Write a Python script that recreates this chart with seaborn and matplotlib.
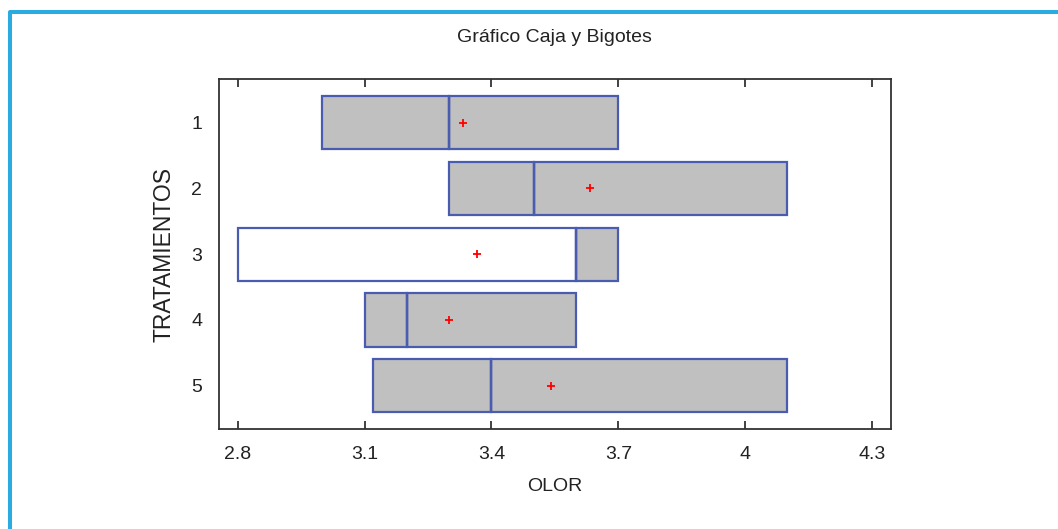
import matplotlib
matplotlib.use("Agg")
import matplotlib.pyplot as plt
import pandas as pd
import seaborn as sns
from matplotlib.patches import Rectangle

# Box-and-whisker summary per treatment (OLOR)
tratamientos = ["1", "2", "3", "4", "5"]
cuartil_inf = [3.0, 3.3, 2.8, 3.1, 3.12]
mediana = [3.3, 3.5, 3.6, 3.2, 3.4]
cuartil_sup = [3.7, 4.1, 3.7, 3.6, 4.1]
media = [3.333, 3.633, 3.367, 3.3, 3.54]
x_ticks = [2.8, 3.1, 3.4, 3.7, 4.0, 4.3]
x_tick_labels = ["2.8", "3.1", "3.4", "3.7", "4", "4.3"]

# Each box is drawn as two halves; five values per half put the quartiles
# exactly on the half's edges.
lower_rows, upper_rows = [], []
for t, q1, md, q3 in zip(tratamientos, cuartil_inf, mediana, cuartil_sup):
    for v in (q1, q1, md, md, md):
        lower_rows.append({"TRATAMIENTOS": t, "OLOR": v})
    for v in (md, md, md, q3, q3):
        upper_rows.append({"TRATAMIENTOS": t, "OLOR": v})
lower = pd.DataFrame(lower_rows)
upper = pd.DataFrame(upper_rows)
medias = pd.DataFrame({"TRATAMIENTOS": tratamientos, "OLOR": media})

sns.set_style("white")
plt.rcParams["font.family"] = ["Liberation Sans", "DejaVu Sans"]

GRAY = "#c0c0c0"
EDGE = "#4a5cb0"
lower_fill = {"1": GRAY, "2": GRAY, "3": "white", "4": GRAY, "5": GRAY}
upper_fill = {t: GRAY for t in tratamientos}

fig = plt.figure(figsize=(10.58, 5.29), dpi=100)
ax = fig.add_axes([0.2067, 0.189, 0.6355, 0.661])

common = dict(x="OLOR", y="TRATAMIENTOS", hue="TRATAMIENTOS", order=tratamientos,
              hue_order=tratamientos, orient="h", width=0.81, whis=0,
              showcaps=False, showfliers=False, saturation=1, linecolor=EDGE,
              linewidth=1.6, legend=False, ax=ax)
sns.boxplot(data=upper, palette=upper_fill, **common)
sns.boxplot(data=lower, palette=lower_fill, **common)

sns.stripplot(data=medias, x="OLOR", y="TRATAMIENTOS", order=tratamientos,
              orient="h", jitter=False, marker="+", size=5.5, linewidth=1.3,
              color="red", ax=ax, zorder=5)

ax.set_xlim(2.755, 4.345)
ax.set_ylim(4.66, -0.66)
ax.set_xticks(x_ticks)
ax.set_xticklabels(x_tick_labels)

for s in ax.spines.values():
    s.set_visible(True)
    s.set_color("#333333")
    s.set_linewidth(1.3)

ax.tick_params(axis="x", direction="in", top=True, bottom=True, length=6,
               width=1.3, color="#333333", pad=12, labelsize=14,
               labelcolor="#222222")
ax.tick_params(axis="y", left=False, length=0, pad=12, labelsize=14,
               labelcolor="#222222")

ax.set_title("Gráfico Caja y Bigotes", fontsize=14, pad=27, color="#222222")
ax.set_xlabel("OLOR", fontsize=14, labelpad=11, color="#222222")
ax.set_ylabel("TRATAMIENTOS", fontsize=16.5, labelpad=11, color="#222222")

# light-blue frame along the top and left edges
fig.add_artist(Rectangle((10 / 1058, -0.2), 1.5, 1.2 - 12 / 529,
                         transform=fig.transFigure, fill=False,
                         edgecolor="#2aace2", linewidth=2.9, joinstyle="round"))

fig.savefig("out.png", dpi=100, facecolor="white")
